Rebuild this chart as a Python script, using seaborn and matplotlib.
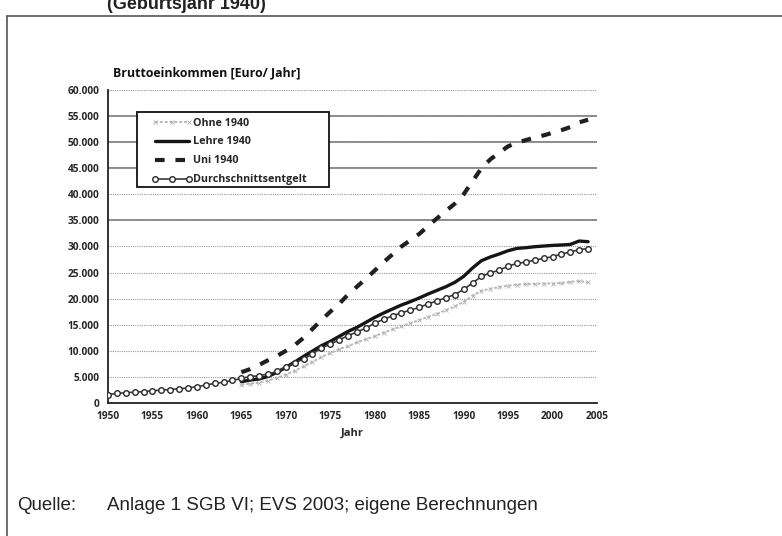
import numpy as np
import pandas as pd
import matplotlib
matplotlib.use("Agg")
import matplotlib.pyplot as plt
from matplotlib.ticker import FuncFormatter, MultipleLocator
from matplotlib.lines import Line2D
from matplotlib.patches import Rectangle
import seaborn as sns

# ---------------- data ----------------
years_all = list(range(1950, 2005))
years_40 = list(range(1965, 2005))

durchschnitt = [1600, 1830, 1970, 2080, 2170, 2330, 2480, 2580, 2730, 2870,
                3120, 3440, 3750, 3980, 4330, 4720, 5060, 5230, 5550, 6060,
                6850, 7680, 8420, 9440, 10520, 11280, 12080, 12920, 13610, 14360,
                15300, 16030, 16710, 17290, 17800, 18320, 19000, 19570, 20180, 20780,
                21760, 23020, 24250, 24950, 25450, 26230, 26750, 26990, 27400, 27700,
                28050, 28550, 28950, 29400, 29600]

ohne_1940 = [3500, 3700, 3900, 4300, 4800, 5400, 6200, 7000, 7900, 8800,
             9600, 10300, 10900, 11600, 12200, 12800, 13500, 14100, 14700, 15300,
             15900, 16500, 17100, 17800, 18500, 19400, 20600, 21500, 21900, 22200,
             22500, 22700, 22800, 22800, 22900, 22900, 23000, 23200, 23400, 23100]

lehre_1940 = [4080, 4400, 4600, 5100, 5870, 6830, 7850, 8940, 9960, 10980,
              11810, 12770, 13730, 14500, 15450, 16410, 17250, 18020, 18780, 19420,
              20130, 20890, 21590, 22290, 23120, 24270, 25880, 27280, 27990, 28560,
              29190, 29640, 29770, 29960, 30090, 30210, 30290, 30400, 31050, 30920]

uni_1940 = [5900, 6500, 7300, 8200, 9000, 10000, 11100, 12500, 14200, 15900,
            17500, 19000, 20800, 22300, 23800, 25400, 27000, 28500, 30000, 31200,
            32400, 33900, 35400, 36800, 38200, 40000, 42500, 45000, 46700, 48000,
            49200, 49900, 50400, 50900, 51300, 51800, 52300, 52900, 53800, 54300]

labels = ["Ohne 1940", "Lehre 1940", "Uni 1940", "Durchschnittsentgelt"]
x_ticks = list(range(1950, 2006, 5))

title_text = "(Geburtsjahr 1940)"
chart_title = "Bruttoeinkommen [Euro/ Jahr]"
x_label = "Jahr"
source_label = "Quelle:"
source_text = "Anlage 1 SGB VI; EVS 2003; eigene Berechnungen"

# ---------------- style ----------------
sns.set_style("white")
plt.rcParams["font.family"] = ["Open Sans", "DejaVu Sans"]

W, H = 782, 536
fig = plt.figure(figsize=(W / 100, H / 100), dpi=100)

def fx(px):
    return px / W

def fy(py):
    return 1 - py / H

ax = fig.add_axes([fx(108), fy(403), fx(597) - fx(108), fy(90) - fy(403)])

df40 = pd.DataFrame({"Jahr": years_40, "Ohne": ohne_1940, "Lehre": lehre_1940, "Uni": uni_1940})
dfd = pd.DataFrame({"Jahr": years_all, "Durchschnitt": durchschnitt})

# gridlines
ax.set_axisbelow(True)
ax.yaxis.grid(True, color="#9a9a9a", linestyle=(0, (1, 1)), linewidth=0.8)
for lvl in [35000, 45000, 50000, 55000]:
    ax.axhline(lvl, color="#6a6a6a", linewidth=1.1, zorder=0.5)

ohne_style = dict(color="#b8b8b8", linewidth=1.4, linestyle=(0, (1.5, 1)), marker="x",
                  markersize=2.5, markeredgewidth=0.6, markeredgecolor="#b0b0b0")
lehre_style = dict(color="#151515", linewidth=2.4)
uni_style = dict(color="#202020", linewidth=3.0, linestyle=(0, (2.3, 2.6)))
durch_style = dict(color="#3a3a3a", linewidth=1.2, marker="o", markersize=4,
                   markerfacecolor="white", markeredgecolor="#2a2a2a", markeredgewidth=1.0)

sns.lineplot(data=df40, x="Jahr", y="Ohne", ax=ax, zorder=2, **ohne_style)
sns.lineplot(data=df40, x="Jahr", y="Lehre", ax=ax, zorder=3, **lehre_style)
sns.lineplot(data=df40, x="Jahr", y="Uni", ax=ax, zorder=3, **uni_style)
sns.lineplot(data=dfd, x="Jahr", y="Durchschnitt", ax=ax, zorder=4, **durch_style)

ax.set_xlim(1950, 2005)
ax.set_ylim(0, 60000)
ax.set_xticks(x_ticks)
ax.yaxis.set_major_locator(MultipleLocator(5000))
ax.yaxis.set_major_formatter(FuncFormatter(lambda v, p: f"{int(v):,}".replace(",", ".")))
ax.set_xlabel(x_label, fontsize=8, fontweight="bold", labelpad=4)
ax.set_ylabel("")

for s in ["top", "right"]:
    ax.spines[s].set_visible(False)
for s in ["left", "bottom"]:
    ax.spines[s].set_color("#222222")
    ax.spines[s].set_linewidth(1.3)
ax.tick_params(axis="both", direction="out", length=4, width=1.0, color="#222222",
               labelsize=7.3, pad=2)
for lab in ax.get_xticklabels() + ax.get_yticklabels():
    lab.set_fontweight("bold")

# legend (figure level, with a drawn frame box)
fig.add_artist(Rectangle((fx(137), fy(187)), fx(329) - fx(137), fy(112) - fy(187),
                         transform=fig.transFigure, facecolor="white",
                         edgecolor="#111111", linewidth=1.3, zorder=5))
handles = [
    Line2D([], [], **ohne_style),
    Line2D([], [], **lehre_style),
    Line2D([], [], **uni_style),
    Line2D([], [], markevery=[1], **durch_style),
]
leg = fig.legend(handles, labels, loc="upper left",
                 bbox_to_anchor=(fx(152), fy(117.5)), bbox_transform=fig.transFigure,
                 frameon=False, prop={"weight": "bold", "size": 7.75}, handlelength=3.7,
                 handletextpad=0.15, labelspacing=0.74, borderpad=0.0,
                 borderaxespad=0, numpoints=3)
leg.set_zorder(6)

# chart title
fig.text(fx(113), fy(73), chart_title, fontsize=8.9, fontweight="bold", va="center",
         ha="left", color="#111111")

# outer frame
fig.add_artist(Line2D([fx(7), fx(7)], [fy(16), fy(540)], transform=fig.transFigure,
                      color="#555555", linewidth=1.2))
fig.add_artist(Line2D([fx(7), fx(782)], [fy(16), fy(16)], transform=fig.transFigure,
                      color="#555555", linewidth=1.2))

# clipped title at top
fig.text(fx(107), fy(9), title_text, fontsize=13, fontweight="bold", va="baseline",
         ha="left", family=["Liberation Sans", "DejaVu Sans"], color="#222222")

# source
fig.text(fx(17), fy(506), source_label, fontsize=13.5, va="center", ha="left",
         family=["Liberation Sans", "DejaVu Sans"], color="#222222")
fig.text(fx(107), fy(506), source_text, fontsize=13.5, va="center", ha="left",
         family=["Liberation Sans", "DejaVu Sans"], color="#222222")

fig.savefig("out.png", dpi=100)
